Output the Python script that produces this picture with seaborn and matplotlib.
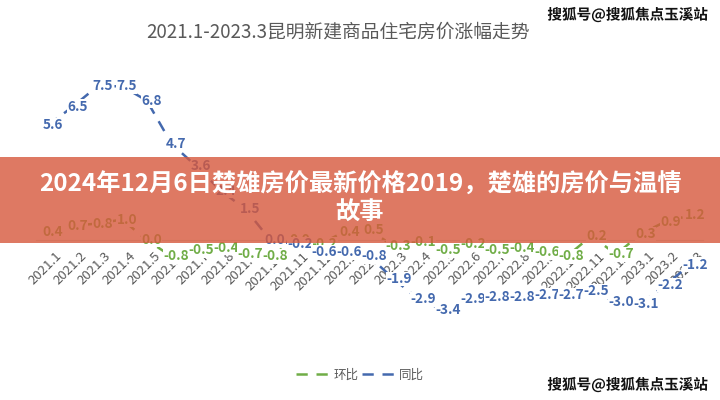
import numpy as np
import pandas as pd
import matplotlib
matplotlib.use('Agg')
import matplotlib.pyplot as plt
import matplotlib.transforms as mtransforms
import matplotlib.patheffects as pe
from matplotlib.lines import Line2D
from matplotlib.patches import Rectangle
import seaborn as sns

# dados
meses = ['2021.1', '2021.2', '2021.3', '2021.4', '2021.5', '2021.6', '2021.7', '2021.8', '2021.9',
         '2021.10', '2021.11', '2021.12', '2022.1', '2022.2', '2022.3', '2022.4', '2022.5', '2022.6',
         '2022.7', '2022.8', '2022.9', '2022.10', '2022.11', '2022.12', '2023.1', '2023.2', '2023.3']
huanbi = [0.4, 0.7, 0.8, 1.0, 0.0, -0.8, -0.5, -0.4, -0.7, -0.8, 0.0, -0.2, 0.4, 0.5, -0.3,
          -0.1, -0.5, -0.2, -0.5, -0.4, -0.6, -0.8, 0.2, -0.7, 0.3, 0.9, 1.2]
tongbi = [5.6, 6.5, 7.5, 7.5, 6.8, 4.7, 3.6, 2.4, 1.5, 0.0, -0.2, -0.6, -0.6, -0.8, -1.9,
          -2.9, -3.4, -2.9, -2.8, -2.8, -2.7, -2.7, -2.5, -3.0, -3.1, -2.2, -1.2]

titulo = '2021.1-2023.3昆明新建商品住宅房价涨幅走势'
banner_l1 = '2024年12月6日楚雄房价最新价格2019，楚雄的房价与温情'
banner_l2 = '故事'
marca = '搜狐号@搜狐焦点玉溪站'

VERDE = '#70AD47'
AZUL = '#4469AE'
CINZA = '#595959'

sns.set_theme(style='white')
plt.rcParams['font.family'] = ['Noto Sans CJK SC', 'DejaVu Sans']

df = pd.DataFrame({'idx': np.arange(len(meses)), 'mes': meses, '环比': huanbi, '同比': tongbi})

fig = plt.figure(figsize=(7.2, 4), dpi=100)
ax = fig.add_axes([0.0495, 0.195, 0.9263, 0.615])

traco = (0, (4.5, 3.5))
sns.lineplot(data=df, x='idx', y='环比', ax=ax, color=VERDE, linewidth=1.8, linestyle=traco)
sns.lineplot(data=df, x='idx', y='同比', ax=ax, color=AZUL, linewidth=1.8, linestyle=traco)

# rótulos de dados com fundo branco
for serie, cor, z in [('环比', VERDE, 4), ('同比', AZUL, 5)]:
    for i, v in enumerate(df[serie]):
        ax.annotate(f'{v:.1f}', (i, v), xytext=(3.5, 0), textcoords='offset points',
                    ha='center', va='center', fontsize=9.8, fontweight='bold', color=cor,
                    bbox=dict(fc='white', ec='none', pad=0.15), zorder=z)

ax.set_xlim(-0.5, 26.5)
ax.set_ylim(-4, 8)
ax.set_xlabel('')
ax.set_ylabel('')
ax.set_yticks([])
for s in ['left', 'right', 'top']:
    ax.spines[s].set_visible(False)
ax.spines['bottom'].set_position(('data', 0))
ax.spines['bottom'].set_color('#D9D9D9')
ax.spines['bottom'].set_linewidth(0.8)
ax.set_xticks(df['idx'])
ax.set_xticklabels(meses, rotation=45, ha='right', rotation_mode='anchor', fontsize=9.5, color=CINZA)
ax.tick_params(axis='x', length=0, pad=7)
desloc = mtransforms.ScaledTranslation(5 / 72, 0, fig.dpi_scale_trans)
for lbl in ax.get_xticklabels():
    lbl.set_transform(lbl.get_transform() + desloc)

fig.text(0.469, 0.92, titulo, ha='center', va='center', fontsize=13.5, color=CINZA)

handles = [Line2D([], [], color=VERDE, lw=1.8, linestyle=traco),
           Line2D([], [], color=AZUL, lw=1.8, linestyle=traco)]
fig.legend(handles, ['环比', '同比'], loc='center', bbox_to_anchor=(0.5, 0.0625), ncol=2,
           frameon=False, handlelength=2.7, columnspacing=0.3, handletextpad=0.3,
           fontsize=9, labelcolor=CINZA)

# marcas d'água
for y in [0.9625, 0.0375]:
    fig.text(0.872, y, marca, ha='center', va='center', fontsize=10.5, fontweight='bold',
             color='#111111', path_effects=[pe.withStroke(linewidth=2, foreground='white')])

# faixa laranja por cima
fig.add_artist(Rectangle((0, 0.3925), 1, 0.215, transform=fig.transFigure,
                         facecolor='#D6583C', alpha=0.8, edgecolor='none', zorder=10))
fig.text(0.5, 0.5375, banner_l1, ha='center', va='center', fontsize=17.5, fontweight='bold',
         color='white', zorder=11)
fig.text(0.5, 0.4675, banner_l2, ha='center', va='center', fontsize=17.5, fontweight='bold',
         color='white', zorder=11)

fig.savefig('out.png', dpi=100)
